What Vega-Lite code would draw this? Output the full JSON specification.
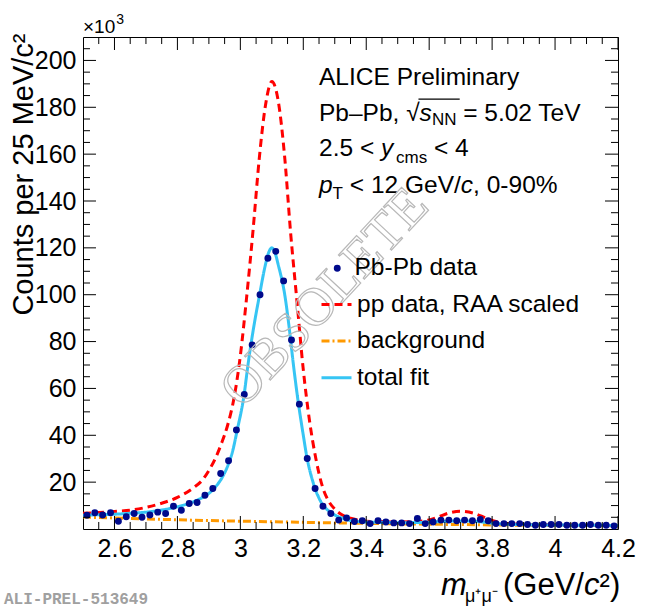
{
  "$schema": "https://vega.github.io/schema/vega-lite/v6.json",
  "width": 535,
  "height": 492,
  "autosize": {"type": "none"},
  "padding": {"left": 83, "top": 37, "right": 32, "bottom": 79},
  "background": "white",
  "config": {
    "font": "Liberation Sans",
    "view": {"stroke": "black", "strokeWidth": 1},
    "axis": {
      "grid": false,
      "domain": false,
      "ticks": false,
      "labelColor": "black",
      "labelFont": "Liberation Sans",
      "labelFontSize": 25,
      "labelOverlap": false,
      "labelFlush": false
    },
    "legend": {
      "labelFont": "Liberation Sans",
      "labelFontSize": 24.5,
      "labelColor": "black",
      "labelLimit": 400,
      "padding": 0
    }
  },
  "datasets": {
    "xMajor": [{"x": 2.6}, {"x": 2.8}, {"x": 3.0}, {"x": 3.2}, {"x": 3.4}, {"x": 3.6}, {"x": 3.8}, {"x": 4.0}, {"x": 4.2}],
    "xMinor": [
      {"x": 2.55}, {"x": 2.65}, {"x": 2.7}, {"x": 2.75}, {"x": 2.85}, {"x": 2.9}, {"x": 2.95}, {"x": 3.05}, {"x": 3.1},
      {"x": 3.15}, {"x": 3.25}, {"x": 3.3}, {"x": 3.35}, {"x": 3.45}, {"x": 3.5}, {"x": 3.55}, {"x": 3.65}, {"x": 3.7},
      {"x": 3.75}, {"x": 3.85}, {"x": 3.9}, {"x": 3.95}, {"x": 4.05}, {"x": 4.1}, {"x": 4.15}
    ],
    "yMajor": [{"y": 20}, {"y": 40}, {"y": 60}, {"y": 80}, {"y": 100}, {"y": 120}, {"y": 140}, {"y": 160}, {"y": 180}, {"y": 200}],
    "yMinor": [
      {"y": 5}, {"y": 10}, {"y": 15}, {"y": 25}, {"y": 30}, {"y": 35}, {"y": 45}, {"y": 50}, {"y": 55}, {"y": 65},
      {"y": 70}, {"y": 75}, {"y": 85}, {"y": 90}, {"y": 95}, {"y": 105}, {"y": 110}, {"y": 115}, {"y": 125}, {"y": 130},
      {"y": 135}, {"y": 145}, {"y": 150}, {"y": 155}, {"y": 165}, {"y": 170}, {"y": 175}, {"y": 185}, {"y": 190}, {"y": 195}, {"y": 205}
    ]
  },
  "layer": [
    {
      "data": {
        "values": [
          {"series": "pp data, RAA scaled", "x": 2.5, "y": 6.7},
          {"series": "pp data, RAA scaled", "x": 2.55, "y": 7.0},
          {"series": "pp data, RAA scaled", "x": 2.6, "y": 7.5},
          {"series": "pp data, RAA scaled", "x": 2.65, "y": 8.0},
          {"series": "pp data, RAA scaled", "x": 2.7, "y": 9.2},
          {"series": "pp data, RAA scaled", "x": 2.75, "y": 11.0},
          {"series": "pp data, RAA scaled", "x": 2.8, "y": 13.5},
          {"series": "pp data, RAA scaled", "x": 2.85, "y": 17.5},
          {"series": "pp data, RAA scaled", "x": 2.88, "y": 21.0},
          {"series": "pp data, RAA scaled", "x": 2.9, "y": 25.0},
          {"series": "pp data, RAA scaled", "x": 2.92, "y": 30.0},
          {"series": "pp data, RAA scaled", "x": 2.94, "y": 36.5},
          {"series": "pp data, RAA scaled", "x": 2.96, "y": 44.5},
          {"series": "pp data, RAA scaled", "x": 2.98, "y": 56.0},
          {"series": "pp data, RAA scaled", "x": 3.0, "y": 74.0},
          {"series": "pp data, RAA scaled", "x": 3.02, "y": 99.0},
          {"series": "pp data, RAA scaled", "x": 3.04, "y": 127.0},
          {"series": "pp data, RAA scaled", "x": 3.06, "y": 158.0},
          {"series": "pp data, RAA scaled", "x": 3.08, "y": 181.0},
          {"series": "pp data, RAA scaled", "x": 3.1, "y": 191.0},
          {"series": "pp data, RAA scaled", "x": 3.12, "y": 183.0},
          {"series": "pp data, RAA scaled", "x": 3.14, "y": 160.0},
          {"series": "pp data, RAA scaled", "x": 3.16, "y": 126.0},
          {"series": "pp data, RAA scaled", "x": 3.18, "y": 97.0},
          {"series": "pp data, RAA scaled", "x": 3.2, "y": 68.0},
          {"series": "pp data, RAA scaled", "x": 3.22, "y": 46.0},
          {"series": "pp data, RAA scaled", "x": 3.24, "y": 30.0},
          {"series": "pp data, RAA scaled", "x": 3.26, "y": 18.5},
          {"series": "pp data, RAA scaled", "x": 3.28, "y": 12.0},
          {"series": "pp data, RAA scaled", "x": 3.3, "y": 8.5},
          {"series": "pp data, RAA scaled", "x": 3.32, "y": 6.3},
          {"series": "pp data, RAA scaled", "x": 3.35, "y": 4.6},
          {"series": "pp data, RAA scaled", "x": 3.38, "y": 3.7},
          {"series": "pp data, RAA scaled", "x": 3.42, "y": 3.2},
          {"series": "pp data, RAA scaled", "x": 3.5, "y": 3.0},
          {"series": "pp data, RAA scaled", "x": 3.56, "y": 3.2},
          {"series": "pp data, RAA scaled", "x": 3.6, "y": 3.9},
          {"series": "pp data, RAA scaled", "x": 3.63, "y": 5.2},
          {"series": "pp data, RAA scaled", "x": 3.66, "y": 6.7},
          {"series": "pp data, RAA scaled", "x": 3.7, "y": 7.6},
          {"series": "pp data, RAA scaled", "x": 3.74, "y": 6.8},
          {"series": "pp data, RAA scaled", "x": 3.77, "y": 5.3},
          {"series": "pp data, RAA scaled", "x": 3.8, "y": 3.7},
          {"series": "pp data, RAA scaled", "x": 3.84, "y": 2.5},
          {"series": "pp data, RAA scaled", "x": 3.9, "y": 2.0},
          {"series": "pp data, RAA scaled", "x": 4.0, "y": 1.8},
          {"series": "pp data, RAA scaled", "x": 4.1, "y": 1.6},
          {"series": "pp data, RAA scaled", "x": 4.2, "y": 1.4},
          {"series": "background", "x": 2.5, "y": 5.1},
          {"series": "background", "x": 2.7, "y": 4.3},
          {"series": "background", "x": 2.9, "y": 3.6},
          {"series": "background", "x": 3.1, "y": 3.1},
          {"series": "background", "x": 3.3, "y": 2.6},
          {"series": "background", "x": 3.5, "y": 2.2},
          {"series": "background", "x": 3.7, "y": 1.9},
          {"series": "background", "x": 3.9, "y": 1.6},
          {"series": "background", "x": 4.1, "y": 1.4},
          {"series": "background", "x": 4.2, "y": 1.3},
          {"series": "total fit", "x": 2.5, "y": 5.9},
          {"series": "total fit", "x": 2.55, "y": 6.1},
          {"series": "total fit", "x": 2.6, "y": 6.3},
          {"series": "total fit", "x": 2.65, "y": 6.7},
          {"series": "total fit", "x": 2.7, "y": 7.2},
          {"series": "total fit", "x": 2.75, "y": 8.1},
          {"series": "total fit", "x": 2.8, "y": 9.5},
          {"series": "total fit", "x": 2.85, "y": 11.6},
          {"series": "total fit", "x": 2.88, "y": 13.5},
          {"series": "total fit", "x": 2.9, "y": 15.2},
          {"series": "total fit", "x": 2.92, "y": 17.8},
          {"series": "total fit", "x": 2.94, "y": 21.5},
          {"series": "total fit", "x": 2.96, "y": 27.0},
          {"series": "total fit", "x": 2.975, "y": 33.0},
          {"series": "total fit", "x": 2.99, "y": 42.2},
          {"series": "total fit", "x": 3.011, "y": 56.5},
          {"series": "total fit", "x": 3.025, "y": 70.8},
          {"series": "total fit", "x": 3.041, "y": 85.0},
          {"series": "total fit", "x": 3.06, "y": 99.2},
          {"series": "total fit", "x": 3.08, "y": 113.0},
          {"series": "total fit", "x": 3.09, "y": 118.0},
          {"series": "total fit", "x": 3.1, "y": 120.0},
          {"series": "total fit", "x": 3.11, "y": 118.0},
          {"series": "total fit", "x": 3.12, "y": 113.0},
          {"series": "total fit", "x": 3.142, "y": 99.2},
          {"series": "total fit", "x": 3.156, "y": 85.0},
          {"series": "total fit", "x": 3.168, "y": 70.8},
          {"series": "total fit", "x": 3.182, "y": 56.0},
          {"series": "total fit", "x": 3.2, "y": 40.0},
          {"series": "total fit", "x": 3.211, "y": 31.0},
          {"series": "total fit", "x": 3.232, "y": 19.5},
          {"series": "total fit", "x": 3.259, "y": 10.9},
          {"series": "total fit", "x": 3.285, "y": 7.3},
          {"series": "total fit", "x": 3.327, "y": 4.5},
          {"series": "total fit", "x": 3.38, "y": 3.1},
          {"series": "total fit", "x": 3.45, "y": 2.8},
          {"series": "total fit", "x": 3.5, "y": 2.7},
          {"series": "total fit", "x": 3.58, "y": 2.8},
          {"series": "total fit", "x": 3.63, "y": 3.1},
          {"series": "total fit", "x": 3.68, "y": 3.4},
          {"series": "total fit", "x": 3.72, "y": 3.4},
          {"series": "total fit", "x": 3.76, "y": 3.1},
          {"series": "total fit", "x": 3.8, "y": 2.5},
          {"series": "total fit", "x": 3.85, "y": 2.0},
          {"series": "total fit", "x": 3.9, "y": 1.9},
          {"series": "total fit", "x": 4.0, "y": 1.7},
          {"series": "total fit", "x": 4.1, "y": 1.6},
          {"series": "total fit", "x": 4.2, "y": 1.5}
        ]
      },
      "mark": {"type": "line", "strokeWidth": 3, "interpolate": "monotone"},
      "encoding": {
        "x": {
          "field": "x",
          "type": "quantitative",
          "scale": {"domain": [2.5, 4.2], "nice": false, "zero": false},
          "axis": {
            "orient": "bottom",
            "title": null,
            "values": [2.6, 2.8, 3, 3.2, 3.4, 3.6, 3.8, 4, 4.2],
            "format": "~g",
            "labelPadding": 7
          }
        },
        "y": {
          "field": "y",
          "type": "quantitative",
          "scale": {"domain": [0, 210], "nice": false, "zero": false},
          "axis": {
            "orient": "left",
            "title": "Counts per 25 MeV/c²",
            "titleFont": "Liberation Sans",
            "titleFontSize": 29,
            "titleFontWeight": "normal",
            "titleColor": "black",
            "titleAngle": -90,
            "titleAlign": "right",
            "titleBaseline": "alphabetic",
            "titleX": -51,
            "titleY": -4,
            "values": [20, 40, 60, 80, 100, 120, 140, 160, 180, 200],
            "labelPadding": 7
          }
        },
        "stroke": {
          "field": "series",
          "type": "nominal",
          "scale": {"domain": ["pp data, RAA scaled", "background", "total fit"], "range": ["#ff0000", "#ff9900", "#36c5f4"]},
          "legend": {"orient": "none", "legendX": 237, "legendY": 251, "title": null, "symbolType": "stroke", "symbolSize": 900, "symbolStrokeWidth": 3, "labelOffset": 4, "rowPadding": 8.6}
        },
        "strokeDash": {
          "field": "series",
          "type": "nominal",
          "scale": {"domain": ["pp data, RAA scaled", "background", "total fit"], "range": [[8, 5], [8, 3, 2, 3], [1, 0]]},
          "legend": {"orient": "none", "legendX": 237, "legendY": 251, "title": null, "symbolType": "stroke", "symbolSize": 900, "symbolStrokeWidth": 3, "labelOffset": 4, "rowPadding": 8.6}
        }
      }
    },
    {
      "data": {
        "values": [
          {"x": 2.5125, "y": 5.9}, {"x": 2.5375, "y": 6.9}, {"x": 2.5625, "y": 6.0}, {"x": 2.5875, "y": 6.9},
          {"x": 2.6125, "y": 3.3}, {"x": 2.6375, "y": 5.2}, {"x": 2.6625, "y": 6.6}, {"x": 2.6875, "y": 5.0},
          {"x": 2.7125, "y": 6.0}, {"x": 2.7375, "y": 7.2}, {"x": 2.7625, "y": 6.6}, {"x": 2.7875, "y": 9.7},
          {"x": 2.8125, "y": 8.0}, {"x": 2.8375, "y": 10.9}, {"x": 2.8625, "y": 11.3}, {"x": 2.8875, "y": 14.4},
          {"x": 2.9125, "y": 17.3}, {"x": 2.9375, "y": 23.7}, {"x": 2.9625, "y": 29.1}, {"x": 2.9875, "y": 42.3},
          {"x": 3.0125, "y": 57.4}, {"x": 3.0375, "y": 78.6}, {"x": 3.0625, "y": 100.0}, {"x": 3.0875, "y": 115.6},
          {"x": 3.1125, "y": 118.5}, {"x": 3.1375, "y": 105.9}, {"x": 3.1625, "y": 80.7}, {"x": 3.1875, "y": 53.3},
          {"x": 3.2125, "y": 30.1}, {"x": 3.2375, "y": 17.3}, {"x": 3.2625, "y": 9.7}, {"x": 3.2875, "y": 6.6},
          {"x": 3.3125, "y": 3.8}, {"x": 3.3375, "y": 4.7}, {"x": 3.3625, "y": 3.2}, {"x": 3.3875, "y": 3.5},
          {"x": 3.4125, "y": 2.3}, {"x": 3.4375, "y": 3.5}, {"x": 3.4625, "y": 3.0}, {"x": 3.4875, "y": 2.6},
          {"x": 3.5125, "y": 2.6}, {"x": 3.5375, "y": 2.3}, {"x": 3.5625, "y": 4.5}, {"x": 3.5875, "y": 2.3},
          {"x": 3.6125, "y": 3.0}, {"x": 3.6375, "y": 3.8}, {"x": 3.6625, "y": 3.8}, {"x": 3.6875, "y": 3.5},
          {"x": 3.7125, "y": 3.8}, {"x": 3.7375, "y": 3.5}, {"x": 3.7625, "y": 4.1}, {"x": 3.7875, "y": 3.5},
          {"x": 3.8125, "y": 2.3}, {"x": 3.8375, "y": 2.3}, {"x": 3.8625, "y": 2.3}, {"x": 3.8875, "y": 2.3},
          {"x": 3.9125, "y": 1.9}, {"x": 3.9375, "y": 1.6}, {"x": 3.9625, "y": 1.9}, {"x": 3.9875, "y": 1.9},
          {"x": 4.0125, "y": 1.9}, {"x": 4.0375, "y": 1.6}, {"x": 4.0625, "y": 1.6}, {"x": 4.0875, "y": 1.6},
          {"x": 4.1125, "y": 1.9}, {"x": 4.1375, "y": 1.6}, {"x": 4.1625, "y": 1.6}, {"x": 4.1875, "y": 1.3}
        ]
      },
      "mark": {"type": "circle", "size": 48, "opacity": 1},
      "encoding": {
        "x": {"field": "x", "type": "quantitative", "scale": {"domain": [2.5, 4.2], "nice": false, "zero": false}},
        "y": {"field": "y", "type": "quantitative", "scale": {"domain": [0, 210], "nice": false, "zero": false}},
        "fill": {
          "datum": "Pb-Pb data",
          "scale": {"range": ["#000a8c"]},
          "legend": {"orient": "none", "legendX": 242, "legendY": 219, "title": null, "symbolType": "circle", "symbolSize": 48, "labelOffset": 5}
        }
      }
    },
    {
      "data": {"name": "xMajor"},
      "mark": {"type": "rule", "color": "black", "strokeWidth": 1},
      "encoding": {
        "x": {"field": "x", "type": "quantitative"},
        "y": {"datum": 0, "type": "quantitative"},
        "y2": {"datum": 5.55}
      }
    },
    {
      "data": {"name": "xMajor"},
      "mark": {"type": "rule", "color": "black", "strokeWidth": 1},
      "encoding": {
        "x": {"field": "x", "type": "quantitative"},
        "y": {"datum": 210, "type": "quantitative"},
        "y2": {"datum": 204.45}
      }
    },
    {
      "data": {"name": "xMinor"},
      "mark": {"type": "rule", "color": "black", "strokeWidth": 1},
      "encoding": {
        "x": {"field": "x", "type": "quantitative"},
        "y": {"datum": 0, "type": "quantitative"},
        "y2": {"datum": 3.0}
      }
    },
    {
      "data": {"name": "xMinor"},
      "mark": {"type": "rule", "color": "black", "strokeWidth": 1},
      "encoding": {
        "x": {"field": "x", "type": "quantitative"},
        "y": {"datum": 210, "type": "quantitative"},
        "y2": {"datum": 207.0}
      }
    },
    {
      "data": {"name": "yMajor"},
      "mark": {"type": "rule", "color": "black", "strokeWidth": 1},
      "encoding": {
        "y": {"field": "y", "type": "quantitative"},
        "x": {"datum": 2.5, "type": "quantitative"},
        "x2": {"datum": 2.5413}
      }
    },
    {
      "data": {"name": "yMajor"},
      "mark": {"type": "rule", "color": "black", "strokeWidth": 1},
      "encoding": {
        "y": {"field": "y", "type": "quantitative"},
        "x": {"datum": 4.2, "type": "quantitative"},
        "x2": {"datum": 4.1587}
      }
    },
    {
      "data": {"name": "yMinor"},
      "mark": {"type": "rule", "color": "black", "strokeWidth": 1},
      "encoding": {
        "y": {"field": "y", "type": "quantitative"},
        "x": {"datum": 2.5, "type": "quantitative"},
        "x2": {"datum": 2.5222}
      }
    },
    {
      "data": {"name": "yMinor"},
      "mark": {"type": "rule", "color": "black", "strokeWidth": 1},
      "encoding": {
        "y": {"field": "y", "type": "quantitative"},
        "x": {"datum": 4.2, "type": "quantitative"},
        "x2": {"datum": 4.1778}
      }
    },
    {
      "data": {"values": [{"x": 2.5, "y": 211.7, "text": "×10"}]},
      "mark": {"type": "text", "align": "left", "baseline": "alphabetic", "font": "Liberation Sans", "fontSize": 19, "color": "black"},
      "encoding": {
        "x": {"field": "x", "type": "quantitative"},
        "y": {"field": "y", "type": "quantitative"},
        "text": {"field": "text"}
      }
    },
    {
      "data": {"values": [{"x": 2.6055, "y": 215.5, "text": "3"}]},
      "mark": {"type": "text", "align": "left", "baseline": "alphabetic", "font": "Liberation Sans", "fontSize": 14, "color": "black"},
      "encoding": {
        "x": {"field": "x", "type": "quantitative"},
        "y": {"field": "y", "type": "quantitative"},
        "text": {"field": "text"}
      }
    },
    {
      "data": {
        "values": [
          {"x": 3.25, "y": 189.5, "text": "ALICE Preliminary"},
          {"x": 3.25, "y": 174.1, "text": "Pb–Pb,"},
          {"x": 3.527, "y": 174.1, "text": "√"},
          {"x": 3.7081, "y": 174.1, "text": "= 5.02 TeV"},
          {"x": 3.25, "y": 159.2, "text": "2.5 <"},
          {"x": 3.6153, "y": 159.2, "text": "< 4"},
          {"x": 3.3478, "y": 143.4, "text": "< 12 GeV/"},
          {"x": 3.7396, "y": 143.4, "text": ", 0-90%"}
        ]
      },
      "mark": {"type": "text", "align": "left", "baseline": "alphabetic", "font": "Liberation Sans", "fontSize": 24.5, "color": "black"},
      "encoding": {
        "x": {"field": "x", "type": "quantitative"},
        "y": {"field": "y", "type": "quantitative"},
        "text": {"field": "text"}
      }
    },
    {
      "data": {
        "values": [
          {"x": 3.5696, "y": 174.1, "text": "s"},
          {"x": 3.4469, "y": 159.2, "text": "y"},
          {"x": 3.25, "y": 143.4, "text": "p"},
          {"x": 3.7005, "y": 143.4, "text": "c"}
        ]
      },
      "mark": {"type": "text", "align": "left", "baseline": "alphabetic", "font": "Liberation Sans", "fontSize": 24.5, "fontStyle": "italic", "color": "black"},
      "encoding": {
        "x": {"field": "x", "type": "quantitative"},
        "y": {"field": "y", "type": "quantitative"},
        "text": {"field": "text"}
      }
    },
    {
      "data": {
        "values": [
          {"x": 3.6087, "y": 172.4, "text": "NN"},
          {"x": 3.4946, "y": 156.2, "text": "cms"},
          {"x": 3.2931, "y": 140.8, "text": "T"}
        ]
      },
      "mark": {"type": "text", "align": "left", "baseline": "alphabetic", "font": "Liberation Sans", "fontSize": 17, "color": "black"},
      "encoding": {
        "x": {"field": "x", "type": "quantitative"},
        "y": {"field": "y", "type": "quantitative"},
        "text": {"field": "text"}
      }
    },
    {
      "data": {"values": [{"x": 3.566, "x2": 3.697, "y": 183.5}]},
      "mark": {"type": "rule", "color": "black", "strokeWidth": 1.3},
      "encoding": {
        "x": {"field": "x", "type": "quantitative"},
        "x2": {"field": "x2"},
        "y": {"field": "y", "type": "quantitative"}
      }
    },
    {
      "data": {
        "values": [
          {"x": 3.6376, "y": -28.2, "text": "m"},
          {"x": 4.092, "y": -28.2, "text": "c"}
        ]
      },
      "mark": {"type": "text", "align": "left", "baseline": "alphabetic", "font": "Liberation Sans", "fontSize": 31, "fontStyle": "italic", "color": "black"},
      "encoding": {
        "x": {"field": "x", "type": "quantitative"},
        "y": {"field": "y", "type": "quantitative"},
        "text": {"field": "text"}
      }
    },
    {
      "data": {
        "values": [
          {"x": 3.8346, "y": -28.2, "text": "(GeV/"},
          {"x": 4.1415, "y": -28.2, "text": "²)"}
        ]
      },
      "mark": {"type": "text", "align": "left", "baseline": "alphabetic", "font": "Liberation Sans", "fontSize": 31, "color": "black"},
      "encoding": {
        "x": {"field": "x", "type": "quantitative"},
        "y": {"field": "y", "type": "quantitative"},
        "text": {"field": "text"}
      }
    },
    {
      "data": {"values": [{"x": 3.714, "y": -31.2, "text": "μ⁺μ⁻"}]},
      "mark": {"type": "text", "align": "left", "baseline": "alphabetic", "font": "Liberation Sans", "fontSize": 18, "color": "black"},
      "encoding": {
        "x": {"field": "x", "type": "quantitative"},
        "y": {"field": "y", "type": "quantitative"},
        "text": {"field": "text"}
      }
    },
    {
      "data": {"values": [{"x": 2.249, "y": -32.0, "text": "ALI-PREL-513649"}]},
      "mark": {"type": "text", "align": "left", "baseline": "alphabetic", "font": "Liberation Mono", "fontSize": 16, "fontWeight": "bold", "color": "#a0a0a0"},
      "encoding": {
        "x": {"field": "x", "type": "quantitative"},
        "y": {"field": "y", "type": "quantitative"},
        "text": {"field": "text"}
      }
    },
    {
      "data": {"values": [{"x": 3.269, "y": 98.6, "text": "OBSOLETE"}]},
      "mark": {"type": "text", "align": "center", "baseline": "middle", "font": "Liberation Serif", "fontSize": 54, "angle": -47, "fill": "transparent", "stroke": "#b8b8b8", "strokeWidth": 1.2},
      "encoding": {
        "x": {"field": "x", "type": "quantitative"},
        "y": {"field": "y", "type": "quantitative"},
        "text": {"field": "text"}
      }
    }
  ]
}
